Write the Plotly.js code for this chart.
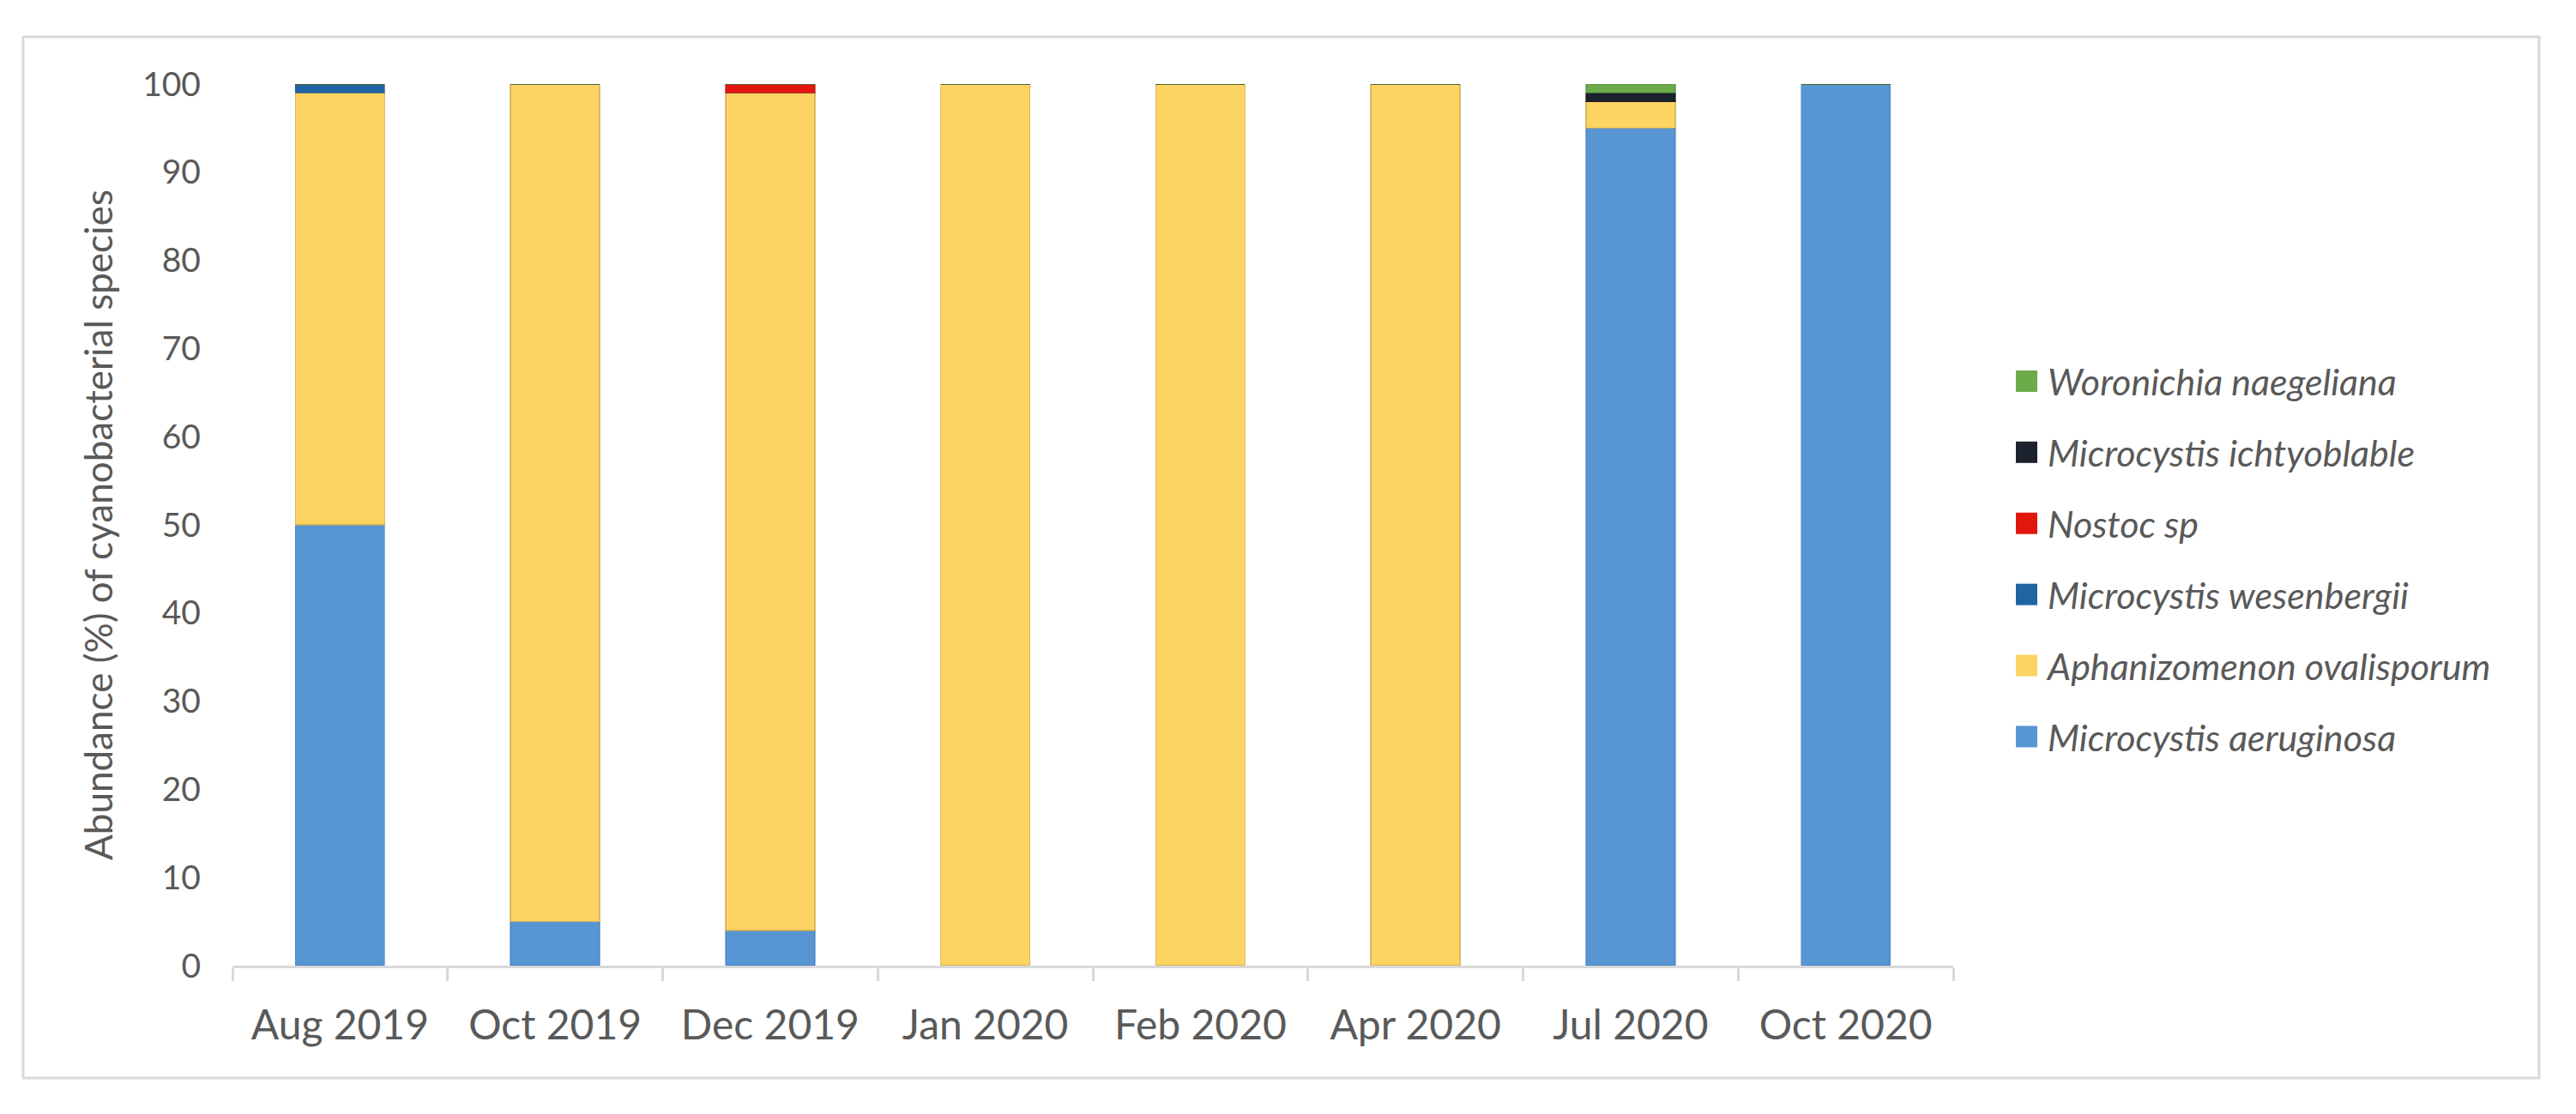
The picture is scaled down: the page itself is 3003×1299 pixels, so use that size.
<!DOCTYPE html>
<html>
<head>
<meta charset="utf-8">
<script src="https://cdn.plot.ly/plotly-3.0.1.min.js"></script>
<style>
  html, body { margin: 0; padding: 0; background: #ffffff; }
  #chart { width: 3003px; height: 1299px; }
</style>
</head>
<body>
<div id="chart"></div>
<script>
// ---- Data ----
const months = ["Aug 2019", "Oct 2019", "Dec 2019", "Jan 2020", "Feb 2020", "Apr 2020", "Jul 2020", "Oct 2020"];

const microcystisAeruginosa    = [50, 5, 4, 0, 0, 0, 95, 100];
const aphanizomenonOvalisporum = [49, 95, 95, 100, 100, 100, 3, 0];
const microcystisWesenbergii   = [1, 0, 0, 0, 0, 0, 0, 0];
const nostocSp                 = [0, 0, 1, 0, 0, 0, 0, 0];
const microcystisIchtyoblable  = [0, 0, 0, 0, 0, 0, 1, 0];
const woronichiaNaegeliana     = [0, 0, 0, 0, 0, 0, 1, 0];

const seriesNames = [
  "Microcystis aeruginosa",
  "Aphanizomenon ovalisporum",
  "Microcystis wesenbergii",
  "Nostoc sp",
  "Microcystis ichtyoblable",
  "Woronichia naegeliana"
];
const seriesValues = [
  microcystisAeruginosa,
  aphanizomenonOvalisporum,
  microcystisWesenbergii,
  nostocSp,
  microcystisIchtyoblable,
  woronichiaNaegeliana
];
const seriesColors = ["#5896D3", "#FDD462", "#1F65A3", "#E3160E", "#1C222E", "#6DAA4A"];
const seriesLines  = ["rgba(60,120,190,0.55)", "rgba(205,170,85,0.75)", "rgba(25,80,130,0.6)",
                      "rgba(180,20,10,0.6)", "rgba(20,20,20,0.6)", "rgba(80,140,60,0.6)"];

const yTicks = [0, 10, 20, 30, 40, 50, 60, 70, 80, 90, 100];

// ---- Traces ----
const traces = seriesNames.map((name, i) => ({
  type: "bar",
  name: name,
  x: months,
  y: seriesValues[i],
  legendgroup: "g" + i,
  legendrank: 1000 - i,
  marker: { color: seriesColors[i], line: { color: seriesLines[i], width: 1.5 } },
  hoverinfo: "x+y+name"
}));

// ---- Layout geometry (pixels) ----
const W = 3003, H = 1299;
const plotL = 271, plotR = 2277, plotT = 98, plotB = 1126;
const pw = plotR - plotL, ph = plotB - plotT;
const px = v => (v - plotL) / pw;
const py = v => (plotB - v) / ph;

const grey = "#595959";
const fontFam = "Lato, 'Open Sans', 'DejaVu Sans', sans-serif";

const layout = {
  width: W,
  height: H,
  margin: { l: plotL, r: W - plotR, t: plotT, b: H - plotB, pad: 0 },
  paper_bgcolor: "#ffffff",
  plot_bgcolor: "#ffffff",
  barmode: "stack",
  bargap: 0.585,
  font: { family: fontFam, color: grey },
  showlegend: true,
  legend: {
    x: px(2347),
    xanchor: "left",
    y: py(410),
    yanchor: "top",
    traceorder: "grouped",
    tracegroupgap: 24,
    font: { family: fontFam, size: 43, color: grey, style: "italic" },
    valign: "middle",
    bgcolor: "rgba(0,0,0,0)"
  },
  xaxis: {
    type: "category",
    categoryorder: "array",
    categoryarray: months,
    range: [-0.5, months.length - 0.5],
    showline: true,
    linecolor: "#D9D9D9",
    linewidth: 3,
    ticks: "outside",
    tickson: "boundaries",
    ticklen: 15,
    tickwidth: 3,
    tickcolor: "#D9D9D9",
    ticklabelstandoff: 25,
    tickfont: { family: fontFam, size: 48, color: grey },
    showgrid: false,
    zeroline: false,
    fixedrange: true
  },
  yaxis: {
    range: [0, 100],
    tickmode: "array",
    tickvals: yTicks,
    ticktext: yTicks.map(String),
    showline: false,
    showgrid: false,
    zeroline: false,
    ticks: "",
    ticklabelstandoff: 36,
    tickfont: { family: fontFam, size: 39, color: grey },
    title: {
      text: "Abundance (%) of cyanobacterial species",
      font: { family: fontFam, size: 44, color: grey },
      standoff: 20
    },
    fixedrange: true
  },
  shapes: [{
    type: "rect",
    xref: "paper", yref: "paper",
    x0: px(27), x1: px(2960),
    y0: py(1257), y1: py(43),
    line: { color: "#D9D9D9", width: 3 },
    fillcolor: "rgba(0,0,0,0)",
    layer: "below"
  }]
};

Plotly.newPlot("chart", traces, layout, { displayModeBar: false, staticPlot: true }).then(() => {
  // enlarge legend swatches to match the reference's bigger squares
  document.querySelectorAll(".legend .legendpoints path").forEach(p => {
    p.removeAttribute("transform");
    p.setAttribute("d", "M28,12.5H3V-12.5H28Z");
    p.style.strokeWidth = "0px";
  });
});
</script>
</body>
</html>
